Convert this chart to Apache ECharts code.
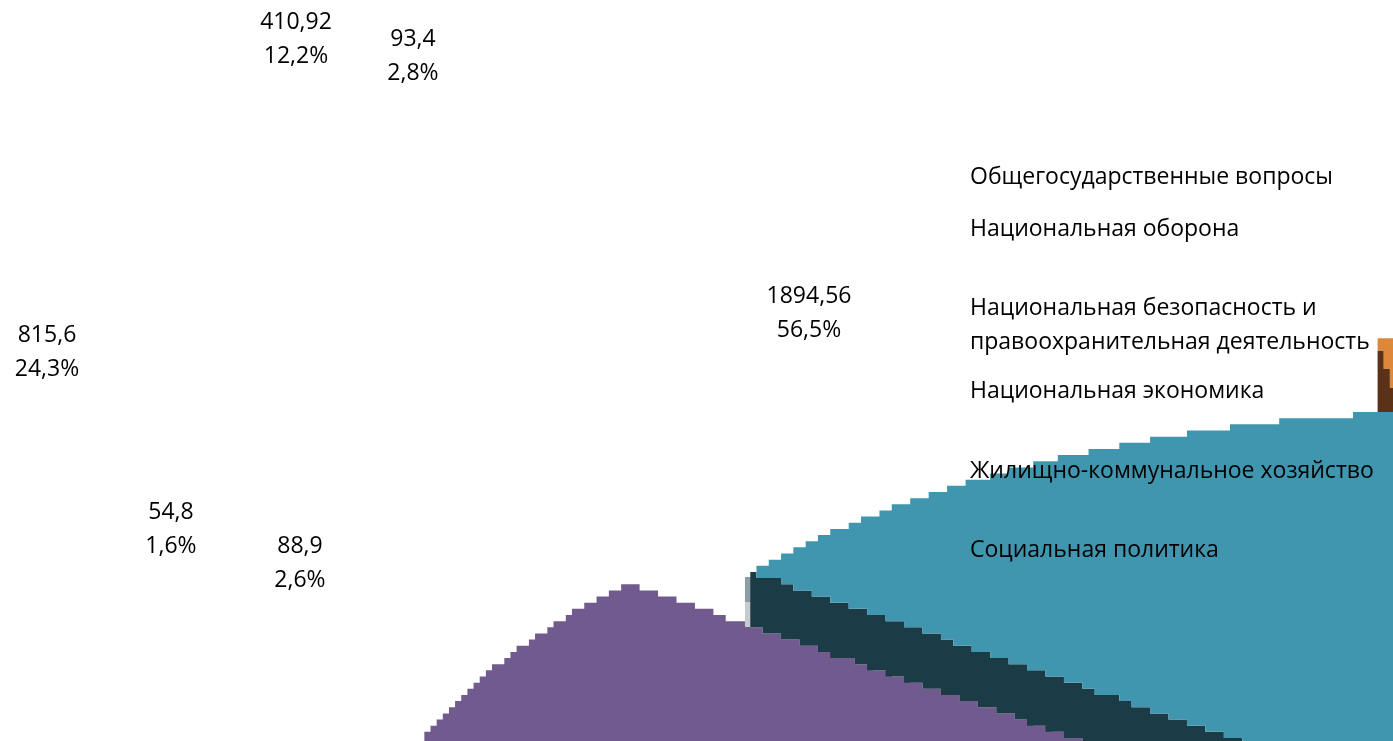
<!DOCTYPE html>
<html><head><meta charset="utf-8">
<style>html,body{margin:0;padding:0;background:#fff}#c{width:1393px;height:741px}</style>
<script src="https://cdn.jsdelivr.net/npm/echarts@6/dist/echarts.min.js"></script>
</head><body><div id="c"></div>
<script>
const categories = ['Общегосударственные вопросы','Национальная оборона','Национальная безопасность и\nправоохранительная деятельность','Национальная экономика','Жилищно-коммунальное хозяйство','Социальная политика'];
const values = [88.9, 54.8, 410.92, 815.6, 1894.56, 93.4];
const valueLabels = ['88,9','54,8','410,92','815,6','1894,56','93,4'];
const percentLabels = ['2,6%','1,6%','12,2%','24,3%','56,5%','2,8%'];
const colors = ['#4F81BD','#C0504D','#9BBB59','#705A8E','#4196AF','#DC873A'];
const wallColors = ['#2F4D71','#73302E','#5D7035','#4C3D61','#1B3B47','#5A3218'];

// geometry of the tilted, exploded 3D pie (angles clockwise from top)
const layout = [
  {cx:1500,cy:830,a:948,b:420,start:161,depth:0,z:1},
  {cx:1500,cy:830,a:948,b:420,start:170,depth:0,z:1},
  {cx:1500,cy:830,a:948,b:420,start:176,depth:0,z:1},
  {cx:1500,cy:885,a:1132,b:475,start:222.1,depth:0,z:2},
  {cx:1500,cy:830,a:948,b:420,start:307.9,depth:55,z:3},
  {cx:1516.5,cy:755.5,a:948,b:420,start:351.6,depth:75,z:0}
];
const CELL = 6.15;
const valueLabelPos = [[300,545],[171,511],[296,21],[47,334],[809,295],[413,38]];
const legendPos = [[970,175],[970,227],[970,306],[970,389],[970,469],[970,548]];
const FONT = '"Open Sans"';
const FS = 23;

const total = values.reduce((s,v)=>s+v,0);
const snap = v => Math.round(v/CELL)*CELL;
function pixelate(pts){
  const fine=[];
  for(let i=0;i<pts.length;i++){
    const p=pts[i], q=pts[(i+1)%pts.length];
    const n=Math.max(1,Math.ceil(Math.hypot(q[0]-p[0],q[1]-p[1])/2));
    if(n>600){ fine.push(p); continue; }
    for(let k=0;k<n;k++) fine.push([p[0]+(q[0]-p[0])*k/n,p[1]+(q[1]-p[1])*k/n]);
  }
  const out=[];
  for(const f of fine){
    const s=[snap(f[0]),snap(f[1])], l=out[out.length-1];
    if(!l){out.push(s);continue;}
    if(l[0]===s[0]&&l[1]===s[1])continue;
    if(l[0]!==s[0]&&l[1]!==s[1])out.push([s[0],l[1]]);
    out.push(s);
  }
  return out;
}
function renderItem(params, api){
  const i=params.dataIndex, g=layout[i], sweep=api.value(0)/total*360;
  const P=d=>{const r=d*Math.PI/180;return [g.cx+g.a*Math.sin(r), g.cy-g.b*Math.cos(r)];};
  const arc=[];
  for(let d=0;d<=sweep;d+=0.2) arc.push(P(g.start+d));
  const top=[[g.cx,g.cy],...arc];
  const children=[];
  if(g.depth){
    const c=P(g.start);
    const wall=[c,[c[0],c[1]+g.depth],[g.cx,g.cy+g.depth],[g.cx,g.cy]];
    if(i===4){
      children.push({type:'rect',shape:{x:c[0]-7,y:c[1]+5,width:7,height:25},style:{fill:'#8A9EA3'},z2:g.z*10});
      children.push({type:'rect',shape:{x:c[0]-7,y:c[1]+30,width:7,height:25},style:{fill:'#C5CCD0'},z2:g.z*10});
    }
    children.push({type:'polygon',shape:{points:pixelate(wall)},style:{fill:wallColors[i]},z2:g.z*10+1});
  }
  children.push({type:'polygon',shape:{points:pixelate(top)},style:{fill:colors[i]},z2:g.z*10+2});
  return {type:'group',children};
}
const textEls=[];
values.forEach((v,i)=>{
  textEls.push({type:'text',x:valueLabelPos[i][0],y:valueLabelPos[i][1]-15,z:20,
    style:{text:valueLabels[i]+'\n'+percentLabels[i],font:FS+'px '+FONT,fill:'#000',align:'center',verticalAlign:'top',lineHeight:33.5}});
});
categories.forEach((n,i)=>{
  textEls.push({type:'text',x:legendPos[i][0],y:legendPos[i][1]-15,z:20,
    style:{text:n,font:FS+'px '+FONT,fill:'#000',align:'left',verticalAlign:'top',lineHeight:34}});
});
const chart=echarts.init(document.getElementById('c'),null,{renderer:'canvas'});
chart.setOption({
  animation:false,
  backgroundColor:'#fff',
  xAxis:{show:false},yAxis:{show:false},
  series:[{type:'custom',coordinateSystem:'none',silent:true,renderItem,clip:false,
    data:values.map((v,i)=>({name:categories[i],value:[v]}))}],
  graphic:{elements:textEls}
});
</script></body></html>
